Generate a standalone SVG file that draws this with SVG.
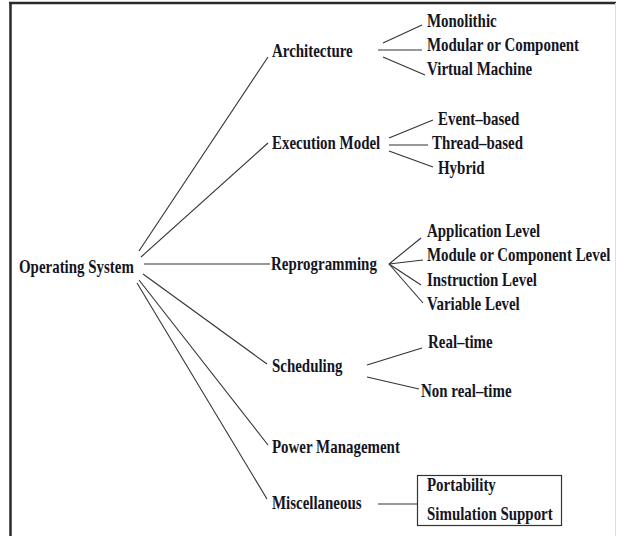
<svg xmlns="http://www.w3.org/2000/svg" width="617" height="536" viewBox="0 0 617 536">
<style>
.t{font-family:"Liberation Serif","Times New Roman",serif;font-weight:bold;font-size:18px;fill:#15151f}
.c line{stroke:#333;stroke-width:1.1;fill:none}
</style>
<rect x="0" y="0" width="617" height="536" fill="#fff"/>
<g id="frame">
<line x1="10.5" y1="3" x2="10.5" y2="536" stroke="#2a2a2a" stroke-width="2.5"/>
<line x1="9" y1="3" x2="616" y2="3" stroke="#2a2a2a" stroke-width="2.5"/>
<line x1="615.5" y1="3" x2="615.5" y2="536" stroke="#ddd" stroke-width="1"/>
</g>
<g class="c" id="connectors">
<line x1="139" y1="251" x2="268" y2="57"/>
<line x1="141" y1="257" x2="268" y2="143"/>
<line x1="144" y1="264" x2="270" y2="264"/>
<line x1="143" y1="274" x2="267" y2="364"/>
<line x1="139" y1="280" x2="268" y2="445"/>
<line x1="137" y1="283" x2="267" y2="499"/>
<line x1="383" y1="43" x2="422" y2="25"/>
<line x1="378" y1="50" x2="422" y2="50"/>
<line x1="383" y1="57" x2="425" y2="75"/>
<line x1="389" y1="138" x2="433" y2="120"/>
<line x1="389" y1="145" x2="428" y2="145"/>
<line x1="389" y1="151" x2="433" y2="167"/>
<line x1="389" y1="264" x2="421" y2="238"/>
<line x1="389" y1="264" x2="423" y2="260"/>
<line x1="389" y1="264" x2="421" y2="285"/>
<line x1="389" y1="264" x2="423" y2="303"/>
<line x1="367" y1="365" x2="422" y2="348"/>
<line x1="367" y1="377" x2="419" y2="389"/>
<line x1="378" y1="504" x2="417" y2="504"/>
</g>
<g id="os"><text class="t" transform="translate(19,273) scale(0.83,1)">Operating System</text></g>
<g id="architecture"><text class="t" transform="translate(272,57) scale(0.83,1)">Architecture</text></g>
<g id="monolithic"><text class="t" transform="translate(427,27) scale(0.83,1)">Monolithic</text></g>
<g id="modular"><text class="t" transform="translate(427,51) scale(0.83,1)">Modular or Component</text></g>
<g id="virtual"><text class="t" transform="translate(427,75) scale(0.83,1)">Virtual Machine</text></g>
<g id="execution"><text class="t" transform="translate(272,149) scale(0.83,1)">Execution Model</text></g>
<g id="event"><text class="t" transform="translate(438,125) scale(0.83,1)">Event–based</text></g>
<g id="thread"><text class="t" transform="translate(432,149) scale(0.83,1)">Thread–based</text></g>
<g id="hybrid"><text class="t" transform="translate(438,174) scale(0.83,1)">Hybrid</text></g>
<g id="reprogramming"><text class="t" transform="translate(271,270) scale(0.83,1)">Reprogramming</text></g>
<g id="application"><text class="t" transform="translate(427,237) scale(0.83,1)">Application Level</text></g>
<g id="module"><text class="t" transform="translate(427,261) scale(0.83,1)">Module or Component Level</text></g>
<g id="instruction"><text class="t" transform="translate(427,286) scale(0.83,1)">Instruction Level</text></g>
<g id="variable"><text class="t" transform="translate(427,310) scale(0.83,1)">Variable Level</text></g>
<g id="scheduling"><text class="t" transform="translate(272,372) scale(0.83,1)">Scheduling</text></g>
<g id="realtime"><text class="t" transform="translate(428,348) scale(0.83,1)">Real–time</text></g>
<g id="nonrealtime"><text class="t" transform="translate(421,397) scale(0.83,1)">Non real–time</text></g>
<g id="power"><text class="t" transform="translate(272,453) scale(0.83,1)">Power Management</text></g>
<g id="misc"><text class="t" transform="translate(272,509) scale(0.83,1)">Miscellaneous</text></g>
<g id="miscbox">
<rect x="417.5" y="475.5" width="144" height="50" fill="none" stroke="#333" stroke-width="1.2"/>
<text class="t" transform="translate(427,491) scale(0.83,1)">Portability</text>
<text class="t" transform="translate(427,520) scale(0.83,1)">Simulation Support</text>
</g>
</svg>
